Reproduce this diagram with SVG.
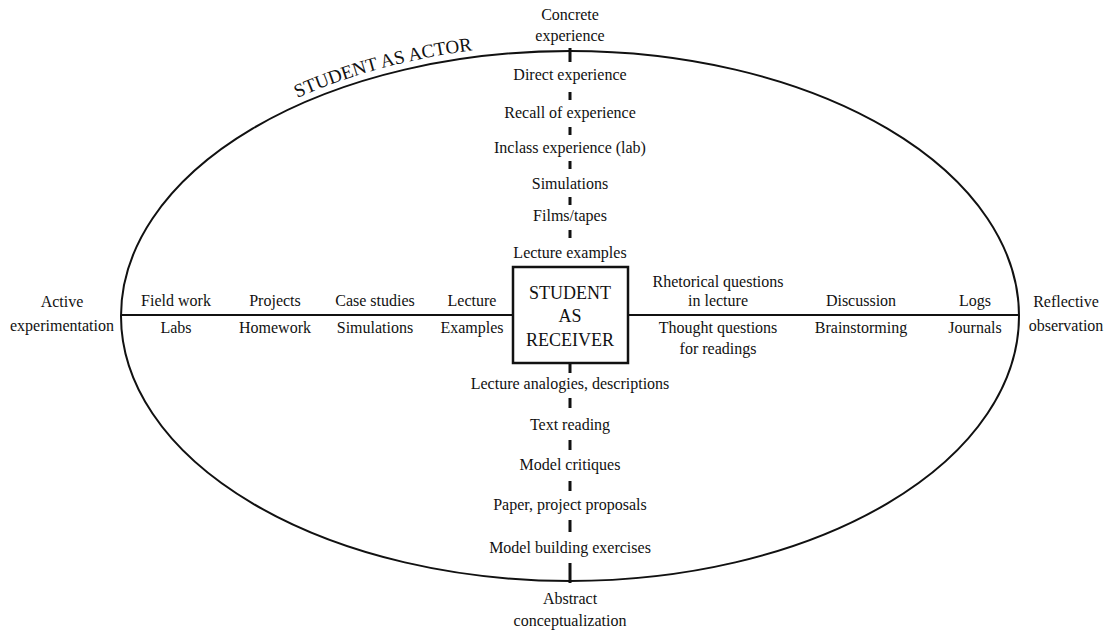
<svg xmlns="http://www.w3.org/2000/svg" xmlns:xlink="http://www.w3.org/1999/xlink" width="1105" height="631" viewBox="0 0 1105 631" font-family="'Liberation Serif', 'DejaVu Serif', serif">
<style>
text{font-family:'Liberation Serif','DejaVu Serif',serif;font-size:16px;fill:#111;text-anchor:middle}
.big{font-size:18px}
.actor{font-size:19px}
.dash{stroke:#111;stroke-width:3;fill:none}
.ln{stroke:#111;stroke-width:2;fill:none}
</style>
<defs>
<path id="arc" d="M 114 316 A 456 272 0 0 1 1026 316"/>
</defs>
<rect width="1105" height="631" fill="#fff"/>
<g id="connectors">
<ellipse cx="570" cy="316" rx="449" ry="265" class="ln" stroke-width="1.6"/>
<line x1="121" y1="315" x2="1019" y2="315" class="ln"/>
<path class="dash" d="M570 48V62M570 92V100M570 127V135M570 161V169M570 197V205M570 230V238M570 362V373M570 398V408M570 440V450M570 481V491M570 520V532M570 563V583"/>
</g>
<g id="actor"><text class="actor"><textPath xlink:href="#arc" href="#arc" startOffset="392">STUDENT AS ACTOR</textPath></text></g>
<g id="receiver">
<rect x="513" y="267" width="115" height="96" fill="#fff" stroke="#111" stroke-width="2.5"/>
<text class="big" x="570" y="299">STUDENT</text>
<text class="big" x="570" y="322">AS</text>
<text class="big" x="570" y="346">RECEIVER</text>
</g>
<g id="concrete"><text x="570" y="20">Concrete</text><text x="570" y="41">experience</text></g>
<g id="direct"><text x="570" y="80">Direct experience</text></g>
<g id="recall"><text x="570" y="118">Recall of experience</text></g>
<g id="inclass"><text x="570" y="153">Inclass experience (lab)</text></g>
<g id="simul-v"><text x="570" y="189">Simulations</text></g>
<g id="films"><text x="570" y="221">Films/tapes</text></g>
<g id="lect-ex"><text x="570" y="258">Lecture examples</text></g>
<g id="analog"><text x="570" y="389">Lecture analogies, descriptions</text></g>
<g id="textread"><text x="570" y="430">Text reading</text></g>
<g id="critiq"><text x="570" y="470">Model critiques</text></g>
<g id="paper"><text x="570" y="510">Paper, project proposals</text></g>
<g id="modelb"><text x="570" y="553">Model building exercises</text></g>
<g id="abstract"><text x="570" y="604">Abstract</text><text x="570" y="626">conceptualization</text></g>
<g id="active"><text x="62" y="307">Active</text><text x="62" y="331">experimentation</text></g>
<g id="field"><text x="176" y="306">Field work</text><text x="176" y="333">Labs</text></g>
<g id="projects"><text x="275" y="306">Projects</text><text x="275" y="333">Homework</text></g>
<g id="cases"><text x="375" y="306">Case studies</text><text x="375" y="333">Simulations</text></g>
<g id="lecture-h"><text x="472" y="306">Lecture</text><text x="472" y="333">Examples</text></g>
<g id="rhet"><text x="718" y="287">Rhetorical questions</text><text x="718" y="306">in lecture</text></g>
<g id="thought"><text x="718" y="333">Thought questions</text><text x="718" y="354">for readings</text></g>
<g id="discuss"><text x="861" y="306">Discussion</text><text x="861" y="333">Brainstorming</text></g>
<g id="logs"><text x="975" y="306">Logs</text><text x="975" y="333">Journals</text></g>
<g id="reflect"><text x="1066" y="307">Reflective</text><text x="1066" y="331">observation</text></g>
</svg>
